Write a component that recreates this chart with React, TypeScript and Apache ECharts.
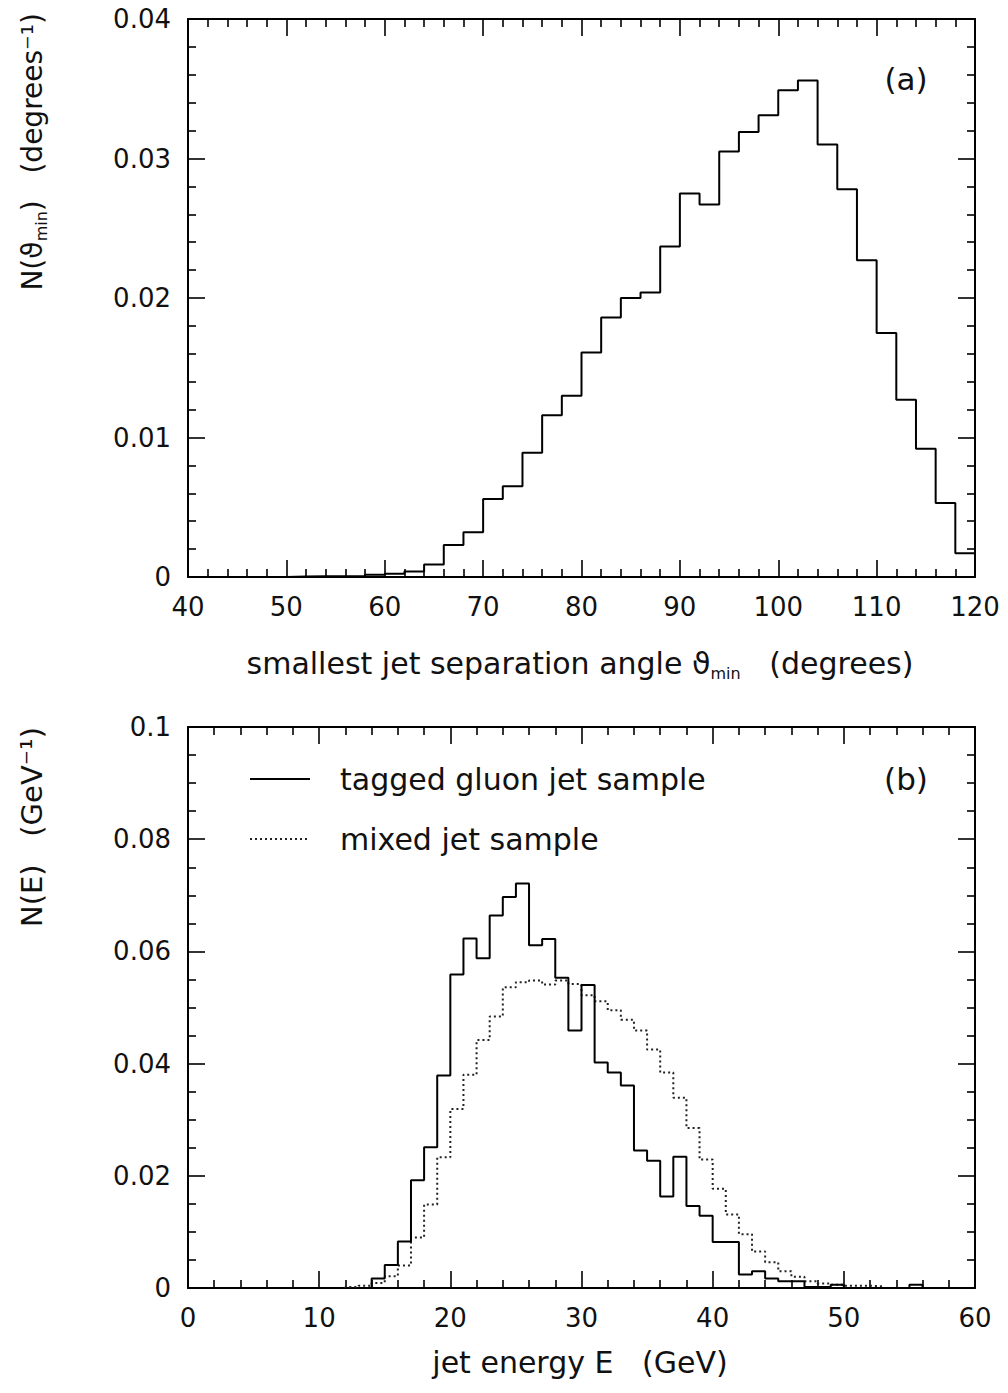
import React, { useEffect, useRef } from "react";
import * as echarts from "echarts";

// ---- Panel (a): smallest jet separation angle, 2-degree bins starting at 50 ----
const angleBinStart = 50;
const angleBinWidth = 2;
const angleValues = [
  0.00003, 0.00005, 0.00005, 0.00008, 0.00016, 0.00024, 0.0004, 0.0009, 0.0023, 0.0032,
  0.0056, 0.0065, 0.0089, 0.0116, 0.013, 0.0161, 0.0186, 0.02, 0.0204, 0.0237,
  0.0275, 0.0267, 0.0305, 0.0319, 0.0331, 0.0349, 0.0356, 0.031, 0.0278, 0.0227,
  0.0175, 0.0127, 0.0092, 0.0053, 0.0017,
];

// ---- Panel (b): jet energy, 1-GeV bins ----
const gluonBinStart = 14;
const gluonValues = [
  0.0017, 0.0041, 0.0083, 0.0192, 0.0251, 0.0379, 0.0559, 0.0623, 0.0588, 0.0664,
  0.0697, 0.0721, 0.0611, 0.0622, 0.0553, 0.0459, 0.054, 0.0402, 0.0384, 0.0361,
  0.0245, 0.0227, 0.0163, 0.0234, 0.0146, 0.0129, 0.0082, 0.0082, 0.0024, 0.003,
  0.0017, 0.0012, 0.0012, 0.0002, 0.0002, 0.0006, 0, 0, 0, 0, 0, 0.0006,
];
const mixedBinStart = 12;
const mixedValues = [
  0.0002, 0.0004, 0.0009, 0.0021, 0.004, 0.009, 0.0149, 0.0233, 0.0319, 0.038,
  0.0442, 0.0484, 0.0536, 0.0545, 0.0548, 0.0541, 0.0548, 0.0542, 0.0522, 0.0511,
  0.0495, 0.0478, 0.0459, 0.0425, 0.0384, 0.0339, 0.0285, 0.0229, 0.0177, 0.0131,
  0.0096, 0.0065, 0.0046, 0.003, 0.002, 0.0012, 0.0008, 0.0006, 0.0004, 0.0004,
  0.0003,
];
const energyBinWidth = 1;

const angleAxis = { min: 40, max: 120, interval: 10, minor: 5 };
const angleYAxis = { min: 0, max: 0.04, interval: 0.01, minor: 5 };
const energyAxis = { min: 0, max: 60, interval: 10, minor: 5 };
const energyYAxis = { min: 0, max: 0.1, interval: 0.02, minor: 4 };

const legendLabels = ["tagged gluon jet sample", "mixed jet sample"];
const panelLabels = ["(a)", "(b)"];

const FONT = "DejaVu Sans";
const INK = "#111";

function stepPoints(start: number, width: number, values: number[]) {
  const pts: number[][] = [[start, 0]];
  values.forEach((v, i) => {
    const x0 = start + i * width;
    pts.push([x0, v], [x0 + width, v]);
  });
  pts.push([start + values.length * width, 0]);
  return pts;
}

function makeAxis(
  cfg: { min: number; max: number; interval: number; minor: number },
  position: string,
  gridIndex: number,
  showLabel: boolean
) {
  return {
    type: "value",
    gridIndex,
    position,
    min: cfg.min,
    max: cfg.max,
    interval: cfg.interval,
    axisLine: { show: true, onZero: false, lineStyle: { color: "#000", width: 2 } },
    axisTick: { show: true, inside: true, length: 17, lineStyle: { color: "#000", width: 1.6 } },
    minorTick: { show: true, splitNumber: cfg.minor, length: 8, lineStyle: { color: "#000", width: 1.6 } },
    splitLine: { show: false },
    minorSplitLine: { show: false },
    axisLabel: {
      show: showLabel,
      margin: 17,
      fontSize: 26,
      fontFamily: FONT,
      color: INK,
    },
  };
}

export default function App() {
  const ref = useRef<HTMLDivElement>(null);

  useEffect(() => {
    if (!ref.current) return;
    const chart = echarts.init(ref.current, undefined, { renderer: "svg" });

    const textStyle = (fs: number) => ({ fontSize: fs, fontFamily: FONT, fill: INK });

    const option: any = {
      animation: false,
      backgroundColor: "#fff",
      grid: [
        { left: 188, right: 33, top: 19, height: 558 },
        { left: 188, right: 33, top: 727, height: 561 },
      ],
      xAxis: [
        makeAxis(angleAxis, "bottom", 0, true),
        makeAxis(angleAxis, "top", 0, false),
        makeAxis(energyAxis, "bottom", 1, true),
        makeAxis(energyAxis, "top", 1, false),
      ],
      yAxis: [
        makeAxis(angleYAxis, "left", 0, true),
        makeAxis(angleYAxis, "right", 0, false),
        makeAxis(energyYAxis, "left", 1, true),
        makeAxis(energyYAxis, "right", 1, false),
      ],
      series: [
        {
          type: "line",
          xAxisIndex: 0,
          yAxisIndex: 0,
          data: stepPoints(angleBinStart, angleBinWidth, angleValues),
          symbol: "none",
          lineStyle: { color: "#000", width: 2 },
          z: 3,
        },
        {
          type: "line",
          name: legendLabels[1],
          xAxisIndex: 2,
          yAxisIndex: 2,
          data: stepPoints(mixedBinStart, energyBinWidth, mixedValues),
          symbol: "none",
          lineStyle: { color: "#222", width: 2, type: [2, 3] },
          z: 2,
        },
        {
          type: "line",
          name: legendLabels[0],
          xAxisIndex: 2,
          yAxisIndex: 2,
          data: stepPoints(gluonBinStart, energyBinWidth, gluonValues),
          symbol: "none",
          lineStyle: { color: "#000", width: 2 },
          z: 3,
        },
      ],
      graphic: [
        // Panel labels
        {
          type: "text",
          x: 906,
          y: 79,
          style: { ...textStyle(31), text: panelLabels[0], align: "center", verticalAlign: "middle", textAlign: "center", textVerticalAlign: "middle" },
        },
        {
          type: "text",
          x: 906,
          y: 779,
          style: { ...textStyle(31), text: panelLabels[1], align: "center", verticalAlign: "middle", textAlign: "center", textVerticalAlign: "middle" },
        },
        // Legend
        { type: "line", shape: { x1: 250, y1: 779, x2: 310, y2: 779 }, style: { stroke: "#000", lineWidth: 2 } },
        { type: "line", shape: { x1: 250, y1: 839, x2: 310, y2: 839 }, style: { stroke: "#222", lineWidth: 2, lineDash: [2, 3] } },
        {
          type: "text",
          x: 340,
          y: 779,
          style: { ...textStyle(30), text: legendLabels[0], align: "left", verticalAlign: "middle", textAlign: "left", textVerticalAlign: "middle" },
        },
        {
          type: "text",
          x: 340,
          y: 839,
          style: { ...textStyle(30), text: legendLabels[1], align: "left", verticalAlign: "middle", textAlign: "left", textVerticalAlign: "middle" },
        },
        // X axis titles
        {
          type: "text",
          x: 580,
          y: 663,
          style: {
            ...textStyle(30),
            text: "{t|smallest jet separation angle ϑ}{s|min}{t|   (degrees)}",
            align: "center",
            verticalAlign: "middle",
            textAlign: "center",
            textVerticalAlign: "middle",
            rich: {
              t: { fontSize: 30, fontFamily: FONT, fill: INK, lineHeight: 36, verticalAlign: "middle" },
              s: { fontSize: 16, fontFamily: FONT, fill: INK, lineHeight: 16, verticalAlign: "bottom" },
            },
          },
        },
        {
          type: "text",
          x: 580,
          y: 1362,
          style: {
            ...textStyle(30),
            text: "jet energy E   (GeV)",
            align: "center",
            verticalAlign: "middle",
            textAlign: "center",
            textVerticalAlign: "middle",
          },
        },
        // Y axis titles (rotated)
        {
          type: "text",
          x: 32,
          y: 13,
          rotation: Math.PI / 2,
          style: {
            ...textStyle(28),
            text: "{t|N(ϑ}{s|min}{t|)   (degrees⁻¹)}",
            align: "right",
            verticalAlign: "middle",
            textAlign: "right",
            textVerticalAlign: "middle",
            rich: {
              t: { fontSize: 28, fontFamily: FONT, fill: INK, lineHeight: 34, verticalAlign: "middle" },
              s: { fontSize: 16, fontFamily: FONT, fill: INK, lineHeight: 16, verticalAlign: "bottom" },
            },
          },
        },
        {
          type: "text",
          x: 32,
          y: 727,
          rotation: Math.PI / 2,
          style: {
            ...textStyle(29),
            text: "N(E)   (GeV⁻¹)",
            align: "right",
            verticalAlign: "middle",
            textAlign: "right",
            textVerticalAlign: "middle",
          },
        },
      ],
    };

    chart.setOption(option);
    return () => chart.dispose();
  }, []);

  return (
    <div
      ref={ref}
      style={{ position: "absolute", left: 0, top: 0, width: 1008, height: 1393, background: "#fff" }}
    />
  );
}
